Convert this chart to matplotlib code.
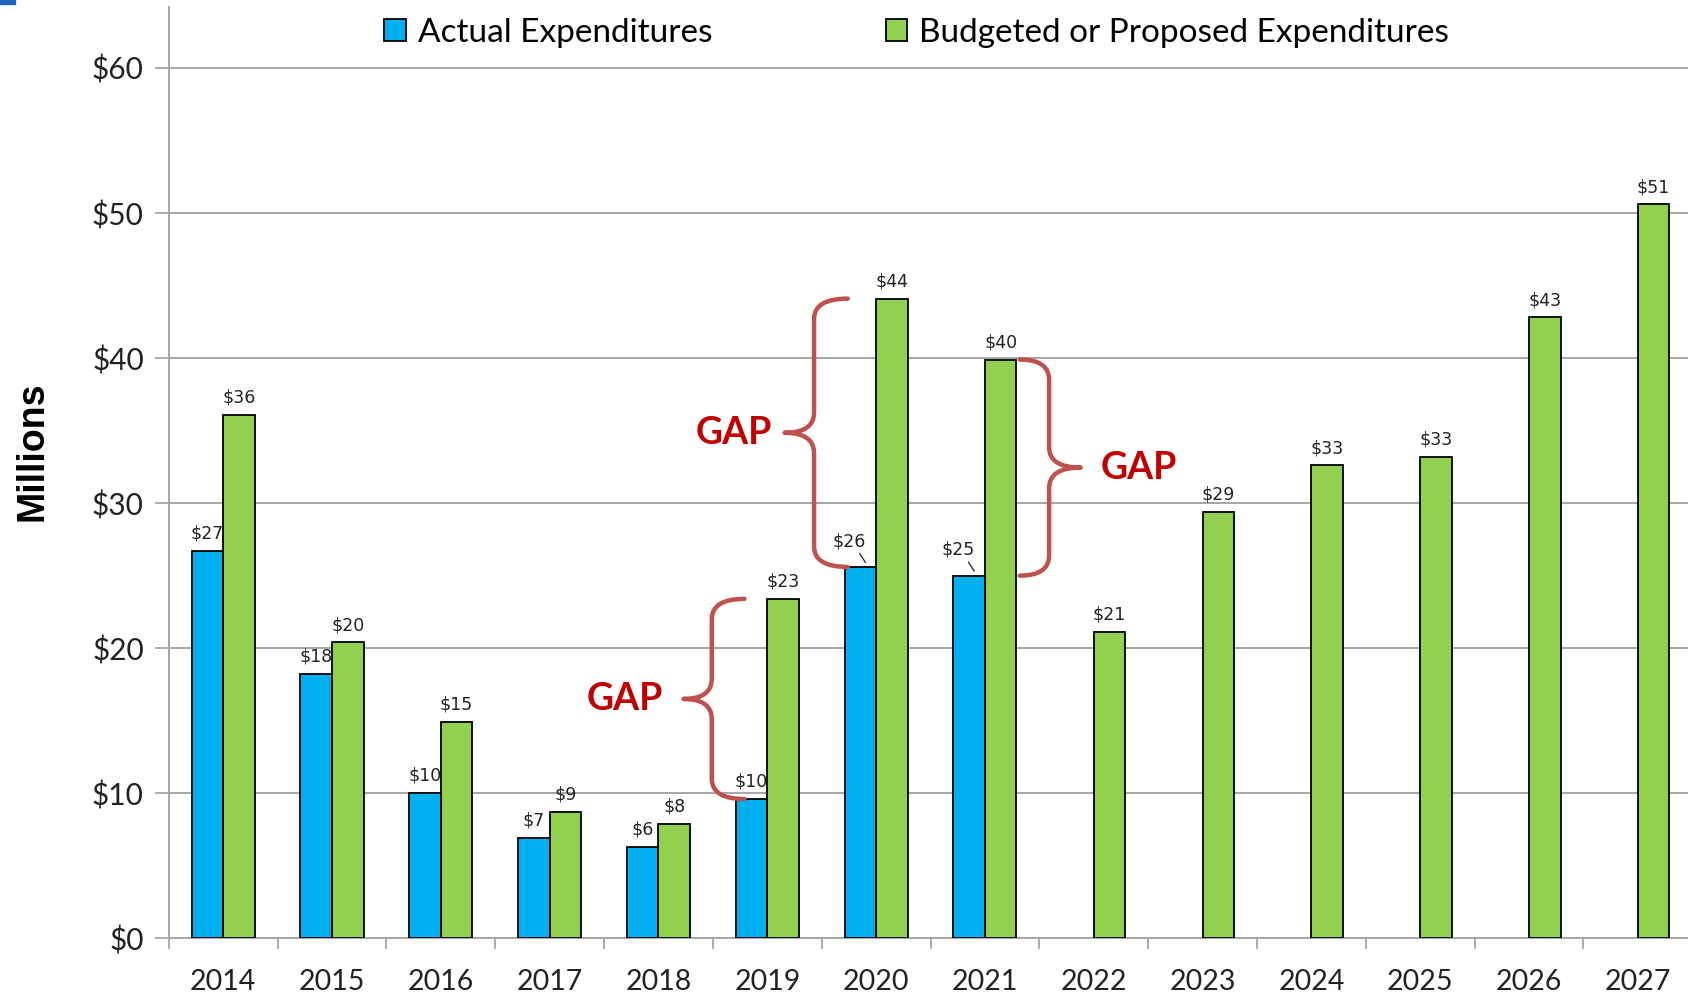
import numpy as np
import matplotlib
matplotlib.use("Agg")
import matplotlib.pyplot as plt
from matplotlib.path import Path
from matplotlib.patches import PathPatch, Rectangle

years = ["2014", "2015", "2016", "2017", "2018", "2019", "2020",
         "2021", "2022", "2023", "2024", "2025", "2026", "2027"]
actual = [26.7, 18.2, 10.0, 6.9, 6.3, 9.6, 25.6, 25.0]
budgeted = [36.1, 20.4, 14.9, 8.7, 7.9, 23.4, 44.1, 39.9,
            21.1, 29.4, 32.6, 33.2, 42.8, 50.6]
y_ticks = [0, 10, 20, 30, 40, 50, 60]
gap_years = ["2019", "2020", "2021"]

BLUE = "#00B0F0"
GREEN = "#92D050"
GRID = "#A6A6A6"
BRACE = "#C0504D"
GAPRED = "#C00000"
TICKFONT = "Lato"
LABELFONT = "DejaVu Sans"


def brace(ax, x_stem, x_tip, x_point, y_lo, y_hi, r=1.4):
    y_mid = (y_lo + y_hi) / 2
    verts = [(x_tip, y_hi),
             (x_stem, y_hi), (x_stem, y_hi - r),
             (x_stem, y_mid + r),
             (x_stem, y_mid), (x_point, y_mid),
             (x_stem, y_mid), (x_stem, y_mid - r),
             (x_stem, y_lo + r),
             (x_stem, y_lo), (x_tip, y_lo)]
    codes = [Path.MOVETO,
             Path.CURVE3, Path.CURVE3,
             Path.LINETO,
             Path.CURVE3, Path.CURVE3,
             Path.CURVE3, Path.CURVE3,
             Path.LINETO,
             Path.CURVE3, Path.CURVE3]
    ax.add_patch(PathPatch(Path(verts, codes), fill=False, edgecolor=BRACE,
                           lw=3.2, capstyle="round", joinstyle="round", zorder=5))


fig = plt.figure(figsize=(16.88, 9.97), dpi=100)
ax = fig.add_axes([0.1, 0.0589, 0.9025, 0.934])

x = np.arange(len(years))
w = 0.29
xa = x[:len(actual)] - w / 2
xb = x + w / 2
ax.bar(xa, actual, w, color=BLUE, edgecolor="black", lw=1.3, zorder=3,
       label="Actual Expenditures")
ax.bar(xb, budgeted, w, color=GREEN, edgecolor="black", lw=1.3, zorder=3,
       label="Budgeted or Proposed Expenditures")

# data labels
for i, v in enumerate(actual):
    dx, dy = 0, 6
    if years[i] in ("2020", "2021"):
        dx, dy = -8, 12
    ax.annotate(f"${v:.0f}", (xa[i], v), xytext=(dx, dy), textcoords="offset points",
                ha="center", va="bottom", fontsize=12.5, family=LABELFONT,
                color="#222222", zorder=6)
    if years[i] in ("2020", "2021"):
        ax.annotate("", (xa[i] + 0.06, v + 0.15), xytext=(xa[i] - 0.02, v + 1.1),
                    arrowprops=dict(arrowstyle="-", color="#333333", lw=1), zorder=6)
for i, v in enumerate(budgeted):
    ax.annotate(f"${v:.0f}", (xb[i], v), xytext=(0, 6), textcoords="offset points",
                ha="center", va="bottom", fontsize=12.5, family=LABELFONT,
                color="#222222", zorder=6)

# gap braces
i1 = years.index(gap_years[0])
i2 = years.index(gap_years[1])
i3 = years.index(gap_years[2])
brace(ax, i1 - 0.51, i1 - 0.21, i1 - 0.77, actual[i1], budgeted[i1])
brace(ax, i2 - 0.57, i2 - 0.26, i2 - 0.84, actual[i2], budgeted[i2])
brace(ax, i3 + 0.59, i3 + 0.32, i3 + 0.88, actual[i3], budgeted[i3])
gap_kw = dict(ha="center", va="center", fontsize=27, fontweight="bold",
              family=TICKFONT, color=GAPRED, zorder=6)
ax.text(i1 - 1.31, (actual[i1] + budgeted[i1]) / 2, "GAP", **gap_kw)
ax.text(i2 - 1.31, (actual[i2] + budgeted[i2]) / 2, "GAP", **gap_kw)
ax.text(i3 + 1.41, (actual[i3] + budgeted[i3]) / 2, "GAP", **gap_kw)

ax.set_xlim(-0.5, len(years) - 0.5)
ax.set_ylim(0, 64.2)
ax.set_yticks(y_ticks)
ax.set_yticklabels([f"${t}" for t in y_ticks])
ax.set_xticks(x)
ax.set_xticklabels(years)
ax.set_xticks(np.arange(len(years) + 1) - 0.5, minor=True)
ax.tick_params(axis="x", which="major", length=0, pad=22, labelsize=20.5)
ax.tick_params(axis="x", which="minor", length=8, width=1.3, color=GRID, direction="out")
ax.tick_params(axis="y", length=10, width=1.3, color=GRID, pad=8, labelsize=21.5)
for lab in ax.get_xticklabels() + ax.get_yticklabels():
    lab.set_family(TICKFONT)
    lab.set_color("#222222")

ax.yaxis.grid(True, color=GRID, lw=1.4, zorder=0)
ax.set_axisbelow(True)
for s in ("top", "right"):
    ax.spines[s].set_visible(False)
for s in ("left", "bottom"):
    ax.spines[s].set_color(GRID)
    ax.spines[s].set_linewidth(1.4)

fig.text(0.019, 0.547, "Millions", rotation=90, ha="center", va="center",
         fontsize=27, fontweight="bold", family="Liberation Sans")

leg = fig.legend(loc="center", bbox_to_anchor=(0.543, 0.967), ncol=2, frameon=False,
                 prop={"family": TICKFONT, "size": 24}, handlelength=0.65,
                 handleheight=0.65, handletextpad=0.35, columnspacing=5.2)

fig.patches.append(Rectangle((0, 0.996), 0.009, 0.004, transform=fig.transFigure,
                             color="#1F5FBF", figure=fig))

fig.savefig("out.png", dpi=100)
